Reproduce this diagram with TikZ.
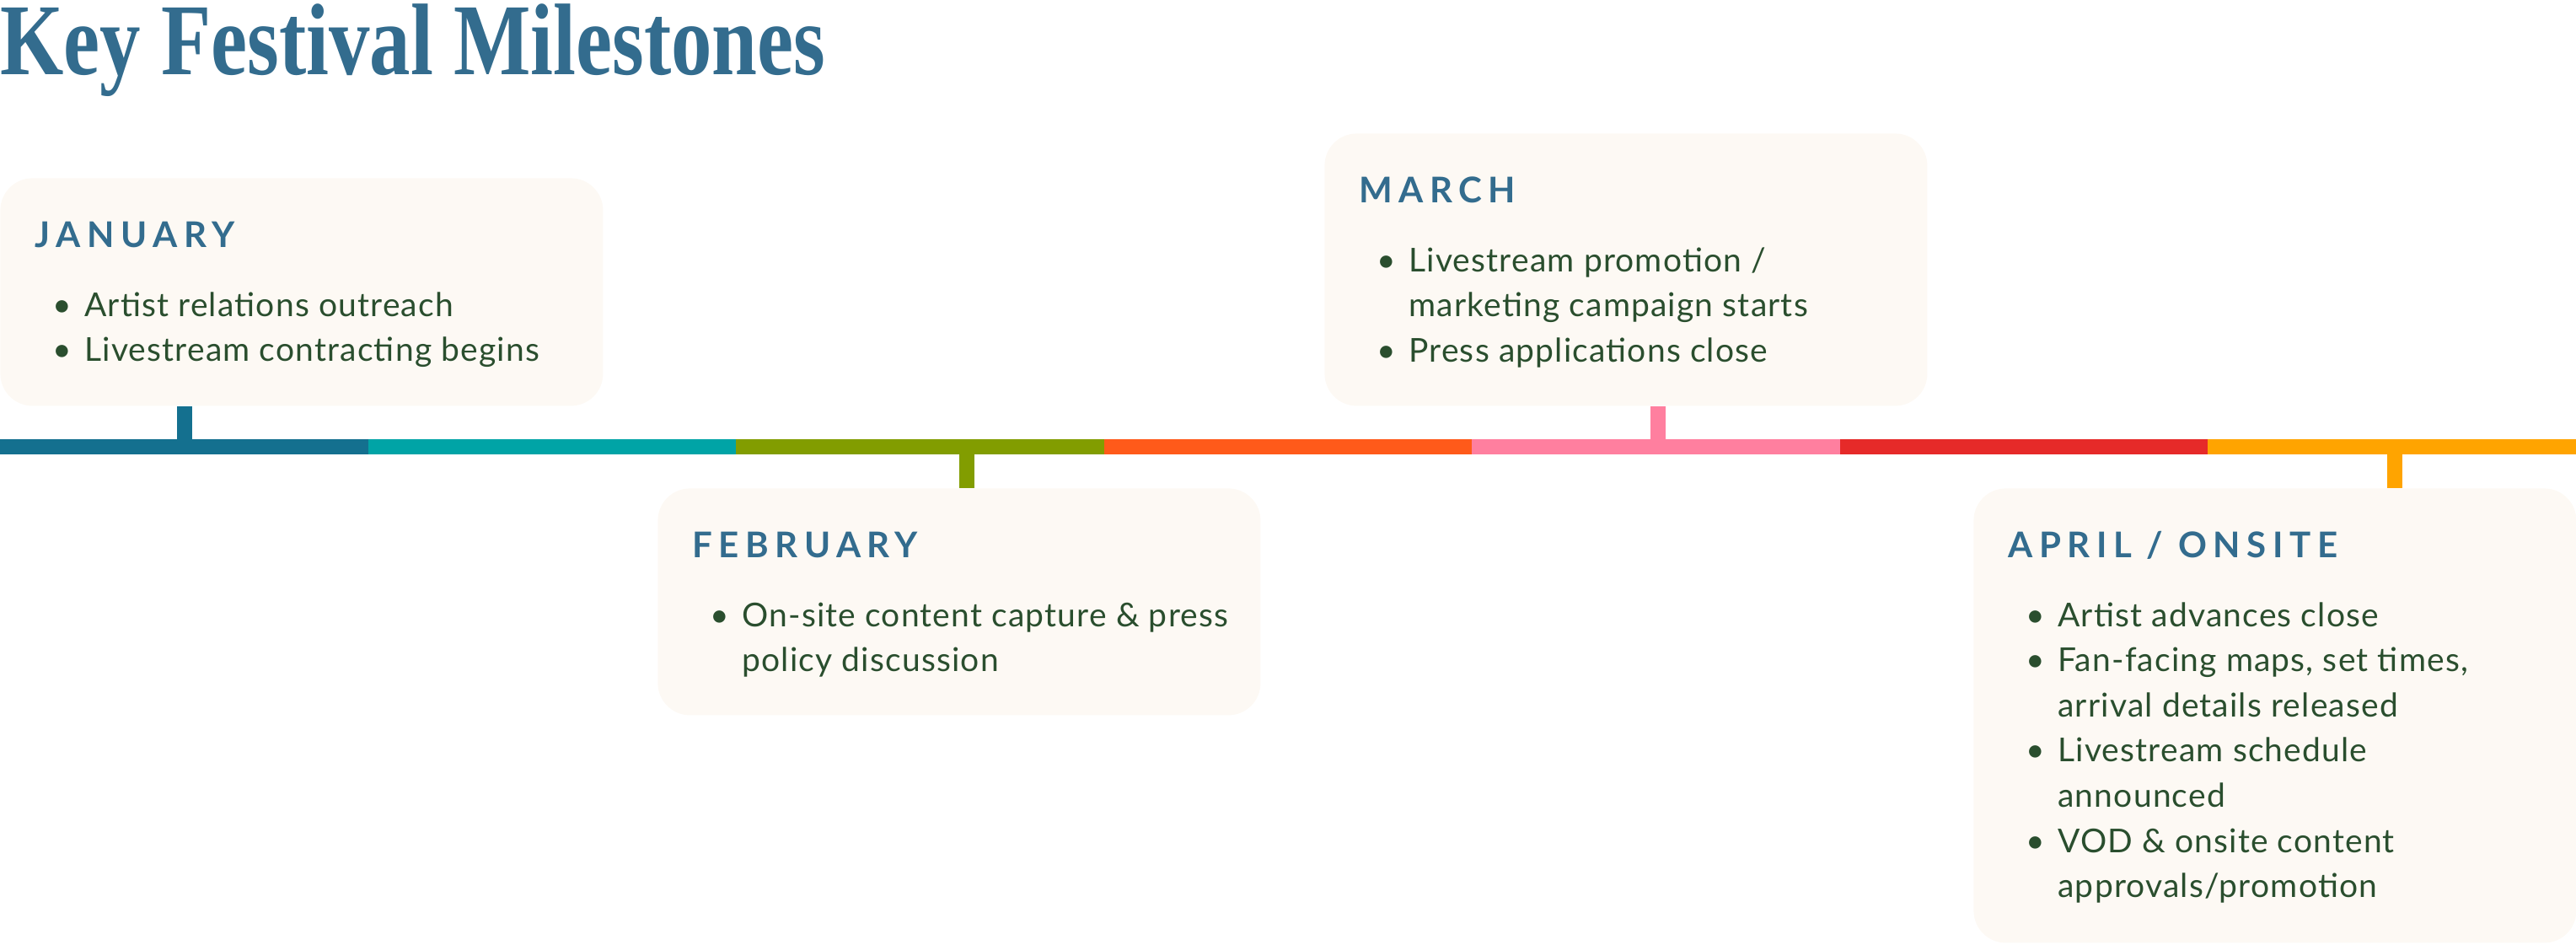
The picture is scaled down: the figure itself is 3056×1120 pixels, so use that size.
\documentclass[tikz,border=0pt]{standalone}
\usepackage{fontspec}
\usepackage{graphicx}
\usepackage{tikz}
\usetikzlibrary{positioning, calc}
\setmainfont{Lato}[LetterSpace=3]
\newfontfamily\titlefont{Liberation Serif}
\newfontfamily\headfont{Lato}[LetterSpace=18]
\definecolor{slateblue}{HTML}{336C8E}
\definecolor{leafgreen}{HTML}{2A4E2E}
\definecolor{cardcream}{HTML}{FDF9F4}
\definecolor{janblue}{HTML}{14708F}
\definecolor{teal}{HTML}{00A4A6}
\definecolor{olive}{HTML}{829D00}
\definecolor{tangerine}{HTML}{FF5A1A}
\definecolor{rosepink}{HTML}{FF7F9F}
\definecolor{scarlet}{HTML}{E62A29}
\definecolor{amber}{HTML}{FFA400}
\tikzstyle{headline}=[anchor=base west, inner sep=0pt, text=slateblue, font=\titlefont\bfseries\fontsize{60.4}{70}\selectfont]
\tikzstyle{card}=[rectangle, rounded corners=19pt, fill=cardcream, minimum width=357.5pt, inner sep=0pt, anchor=north west]
\tikzstyle{monthhead}=[anchor=base west, inner sep=0pt, text=slateblue, font=\headfont\bfseries\fontsize{21}{24}\selectfont]
\tikzstyle{bullets}=[anchor=base west, inner sep=0pt, text=leafgreen, font=\fontsize{19.5}{26.8}\selectfont]
\tikzstyle{barpiece}=[rectangle, minimum width=218.29pt, minimum height=9pt, inner sep=0pt, outer sep=0pt, anchor=north west]
\tikzstyle{stemline}=[line width=9pt]
\begin{document}
\begin{tikzpicture}[x=0.5pt, y=-0.5pt]
	\useasboundingbox (0,0) rectangle (3056,1120);
	\node (title) [headline] at (0,88) {\resizebox{489.5pt}{\height}{Key Festival Milestones}};

	% timeline bar
	\foreach \c [count=\i] in {janblue, teal, olive, tangerine, rosepink, scarlet, amber}
		\node (seg\i) [barpiece, fill=\c] at ({(\i-1)*436.571},521) {};

	% cards
	\node (jan) [card, minimum height=135pt] at (0,211) {};
	\node (feb) [card, minimum height=134.5pt] at (780,579) {};
	\node (mar) [card, minimum height=161.5pt] at (1571,158) {};
	\node (apr) [card, minimum height=269.5pt] at (2341,579) {};

	\node (janhead) [monthhead] at ($(jan.north west)+(41,82)$) {JANUARY};
	\node (febhead) [monthhead] at ($(feb.north west)+(41,82)$) {FEBRUARY};
	\node (marhead) [monthhead] at ($(mar.north west)+(41,82)$) {MARCH};
	\node (aprhead) [monthhead] at ($(apr.north west)+(41,82)$) {APRIL / ONSITE};

	\node (janlist) [bullets] at ($(jan.north west)+(62,164)$) {\begin{tabular}[t]{@{}p{19pt}@{}l@{}}
		\textbullet & Artist relations outreach\\
		\textbullet & Livestream contracting begins
	\end{tabular}};
	\node (feblist) [bullets] at ($(feb.north west)+(62,164)$) {\begin{tabular}[t]{@{}p{19pt}@{}l@{}}
		\textbullet & On-site content capture \& press\\
		& policy discussion
	\end{tabular}};
	\node (marlist) [bullets] at ($(mar.north west)+(62,164)$) {\begin{tabular}[t]{@{}p{19pt}@{}l@{}}
		\textbullet & Livestream promotion /\\
		& marketing campaign starts\\
		\textbullet & Press applications close
	\end{tabular}};
	\node (aprlist) [bullets] at ($(apr.north west)+(62,164)$) {\begin{tabular}[t]{@{}p{19pt}@{}l@{}}
		\textbullet & Artist advances close\\
		\textbullet & Fan-facing maps, set times,\\
		& arrival details released\\
		\textbullet & Livestream schedule\\
		& announced\\
		\textbullet & VOD \& onsite content\\
		& approvals/promotion
	\end{tabular}};

	% stems from cards to the bar
	\coordinate (janpin) at (219,0);
	\coordinate (febpin) at (1147,0);
	\coordinate (marpin) at (1967,0);
	\coordinate (aprpin) at (2841,0);
	\draw [stemline, janblue] (janpin |- jan.south) -- (janpin |- seg1.north);
	\draw [stemline, olive] (febpin |- seg3.south) -- (febpin |- feb.north);
	\draw [stemline, rosepink] (marpin |- mar.south) -- (marpin |- seg5.north);
	\draw [stemline, amber] (aprpin |- seg7.south) -- (aprpin |- apr.north);
\end{tikzpicture}
\end{document}
